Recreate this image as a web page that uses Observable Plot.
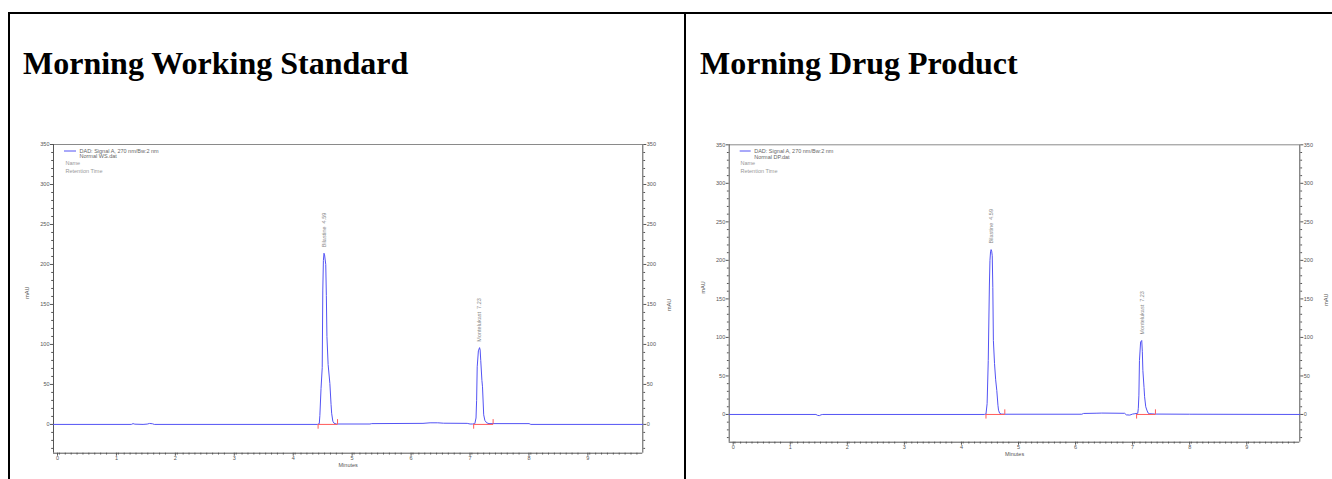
<!DOCTYPE html>
<html>
<head>
<meta charset="utf-8">
<script src="https://cdn.jsdelivr.net/npm/d3@7"></script>
<script src="https://cdn.jsdelivr.net/npm/@observablehq/plot@0.6"></script>
<style>
  html, body { margin: 0; padding: 0; width: 1332px; height: 479px; overflow: hidden; background: #fff; }
  .rule { position: absolute; background: #000; }
  .title { position: absolute; font: bold 32px "Liberation Serif", "Times New Roman", serif; line-height: 32px; white-space: nowrap; color: #000; }
  .panel { position: absolute; }
</style>
</head>
<body>
<div class="rule" style="left:8px;top:12px;width:1324px;height:2px"></div>
<div class="rule" style="left:8px;top:12px;width:2px;height:467px"></div>
<div class="rule" style="left:684px;top:12px;width:2px;height:467px"></div>
<div class="title" style="left:23px;top:47px">Morning Working Standard</div>
<div class="title" style="left:700px;top:47px">Morning Drug Product</div>
<div class="panel" id="ws" style="left:20px;top:130px"></div>
<div class="panel" id="dp" style="left:690px;top:130px"></div>
<script>
// Tick values shared by both chromatograms
const xTicks = [0, 1, 2, 3, 4, 5, 6, 7, 8, 9];
const yTicks = [0, 50, 100, 150, 200, 250, 300, 350];

// Peak identification
const peakNames = ["Bilastine", "Montelukast"];

// Working standard: retention times (min), apex heights (mAU), integration limits
const wsRetention = [4.59, 7.23];
const wsHeight = [214, 96];
const wsStart = [4.49, 7.13];
const wsEnd = [4.82, 7.46];

// Drug product: retention times (min), apex heights (mAU), integration limits
const dpRetention = [4.59, 7.23];
const dpHeight = [214, 96];
const dpStart = [4.50, 7.14];
const dpEnd = [4.83, 7.47];

// DAD signal A, 270 nm — [time (min), absorbance (mAU)]
const wsSignal = [
  [0, 0], [1.32, 0], [1.35, 1], [1.38, 0.3], [1.52, 0], [1.59, 0.4], [1.63, 1.2], [1.68, 0.8], [1.71, 0],
  [4.48, 0], [4.51, 1], [4.52, 11], [4.54, 45], [4.56, 71], [4.57, 168], [4.58, 205], [4.59, 214], [4.60, 212],
  [4.62, 200], [4.63, 161], [4.64, 110], [4.66, 75], [4.69, 51], [4.71, 25], [4.72, 14], [4.74, 4], [4.76, 1.5], [4.80, 0.5],
  [5.37, 0.5], [5.40, 1], [6.27, 1.3], [6.39, 2], [6.52, 2], [6.62, 1.5], [7.02, 1.3], [7.07, 0.5], [7.11, 0.5],
  [7.15, 1], [7.17, 8], [7.18, 30], [7.19, 72], [7.21, 92], [7.23, 96], [7.24, 93], [7.25, 80], [7.27, 55],
  [7.28, 47], [7.30, 12], [7.32, 5], [7.35, 2], [7.39, 1], [8.07, 1], [8.10, 0], [10, 0]
];
const dpSignal = [
  [0, 0], [1.52, 0], [1.55, -1.2], [1.58, -1.5], [1.61, -0.4], [1.64, 0],
  [4.47, 0], [4.50, 0.5], [4.52, 14], [4.54, 70], [4.56, 168], [4.57, 200], [4.58, 211], [4.59, 214], [4.60, 212],
  [4.61, 206], [4.62, 165], [4.63, 96], [4.65, 66], [4.67, 45], [4.69, 31], [4.71, 12], [4.72, 5.6], [4.74, 1.5],
  [4.77, 0.5], [4.83, 0.3], [6.18, 0.3], [6.21, 1.3], [6.43, 1.6], [6.53, 1.8], [6.93, 1.5], [6.96, -0.5],
  [7.02, -0.8], [7.07, 0.5], [7.11, 1], [7.16, 1.5], [7.17, 8], [7.18, 25], [7.19, 70], [7.21, 94], [7.23, 96],
  [7.24, 82], [7.25, 57], [7.27, 35], [7.28, 23], [7.30, 10], [7.32, 5.6], [7.34, 2], [7.36, 1], [7.46, 0.5],
  [8.07, 0.3], [10, 0]
];

const traceColor = "#5353f4";
const baselineColor = "#ff5a5a";
const axisColor = "#555";

function peakTable(rt, height, start, end) {
  return peakNames.map((name, i) => ({name, rt: rt[i], height: height[i], start: start[i], end: end[i]}));
}

function chromatogram({signal, peaks, file, xDomain, yDomain, width, height, margins, legend}) {
  const [mt, mr, mb, ml] = margins;
  const minorX = d3.range(1, Math.round(xDomain[1] * 10)).map((k) => k / 10).filter((_, i) => (i + 1) % 10 !== 0);
  const minorY = d3.range(-30, 351, 10).filter((v) => v % 50 !== 0);
  const data = signal.map(([t, v]) => ({t, v}));

  // legend swatch in the upper-left corner of the frame
  const swatch = (index, scales, values, dims) => {
    const g = d3.create("svg:line")
      .attr("x1", dims.marginLeft + legend.line[0])
      .attr("x2", dims.marginLeft + legend.line[1])
      .attr("y1", dims.marginTop + legend.line[2])
      .attr("y2", dims.marginTop + legend.line[2])
      .attr("stroke", traceColor)
      .attr("stroke-width", 1);
    return g.node();
  };

  return Plot.plot({
    width, height,
    marginTop: mt, marginRight: mr, marginBottom: mb, marginLeft: ml,
    style: {fontFamily: "'Liberation Sans', Arial, sans-serif", fontSize: "5.5px", color: axisColor, background: "transparent", overflow: "visible"},
    x: {domain: xDomain, label: null},
    y: {domain: yDomain, label: null},
    marks: [
      // frame: light top edge, darker axis lines
      Plot.ruleY([yDomain[1]], {stroke: "#8a8a8a"}),
      Plot.ruleX([xDomain[0], xDomain[1]], {stroke: axisColor}),
      Plot.ruleY([yDomain[0]], {stroke: axisColor}),
      // axes
      Plot.axisY({anchor: "left", ticks: yTicks, tickSize: 3, tickPadding: 1, stroke: axisColor, fill: axisColor, label: null}),
      Plot.axisY({anchor: "left", ticks: minorY, tickSize: 1.8, tickFormat: () => "", stroke: axisColor, label: null}),
      Plot.axisY({anchor: "right", ticks: yTicks, tickSize: 3, tickPadding: 1, stroke: axisColor, fill: axisColor, label: null}),
      Plot.axisY({anchor: "right", ticks: minorY, tickSize: 1.8, tickFormat: () => "", stroke: axisColor, label: null}),
      Plot.axisX({anchor: "bottom", ticks: xTicks, tickSize: 3, tickPadding: 0, dx: 4, stroke: axisColor, fill: axisColor, label: null}),
      Plot.axisX({anchor: "bottom", ticks: minorX, tickSize: 1.8, tickFormat: () => "", stroke: axisColor, label: null}),
      Plot.text(["mAU"], {text: (d) => d, frameAnchor: "left", dx: -26, rotate: -90, fill: axisColor}),
      Plot.text(["mAU"], {text: (d) => d, frameAnchor: "right", dx: 26, rotate: -90, fill: axisColor}),
      Plot.text(["Minutes"], {text: (d) => d, frameAnchor: "bottom", dy: 14, fill: axisColor}),
      // legend
      swatch,
      Plot.text(["DAD: Signal A, 270 nm/Bw:2 nm"], {text: (d) => d, frameAnchor: "top-left", textAnchor: "start", dx: legend.text, dy: legend.rows[0], fill: "#666"}),
      Plot.text([file], {text: (d) => d, frameAnchor: "top-left", textAnchor: "start", dx: legend.text, dy: legend.rows[1], fill: "#666"}),
      Plot.text(["Name"], {text: (d) => d, frameAnchor: "top-left", textAnchor: "start", dx: legend.label, dy: legend.rows[2], fill: "#999"}),
      Plot.text(["Retention Time"], {text: (d) => d, frameAnchor: "top-left", textAnchor: "start", dx: legend.label, dy: legend.rows[3], fill: "#999"}),
      // signal trace
      Plot.line(data, {x: "t", y: "v", stroke: traceColor, strokeWidth: 1}),
      // integration baselines with start/end markers
      Plot.link(peaks, {x1: "start", x2: "end", y1: 0, y2: 0, stroke: baselineColor}),
      Plot.ruleX(peaks, {x: "start", y1: 0, y2: -6, stroke: baselineColor}),
      Plot.ruleX(peaks, {x: "end", y1: 0, y2: 6, stroke: baselineColor}),
      // peak annotations: name and retention time
      Plot.text(peaks, {x: "rt", y: "height", text: (d) => `${d.name}  ${d.rt.toFixed(2)}`, rotate: -90, textAnchor: "start", dy: -6, fill: "#888"})
    ]
  });
}

document.getElementById("ws").append(chromatogram({
  signal: wsSignal,
  peaks: peakTable(wsRetention, wsHeight, wsStart, wsEnd),
  file: "Normal WS.dat",
  xDomain: [0, 10],
  yDomain: [-36, 350],
  width: 662, height: 349,
  margins: [14, 39.7, 26.3, 33],
  legend: {line: [11, 23, 7], text: 26, label: 12, rows: [4.3, 10, 17, 24.3]}
}));

document.getElementById("dp").append(chromatogram({
  signal: dpSignal,
  peaks: peakTable(dpRetention, dpHeight, dpStart, dpEnd),
  file: "Normal DP.dat",
  xDomain: [0, 10],
  yDomain: [-36, 350],
  width: 642, height: 349,
  margins: [14.3, 32.7, 37.3, 38.7],
  legend: {line: [11, 22, 6.7], text: 25, label: 11.3, rows: [4, 10, 16.7, 24]}
}));
</script>
</body>
</html>
